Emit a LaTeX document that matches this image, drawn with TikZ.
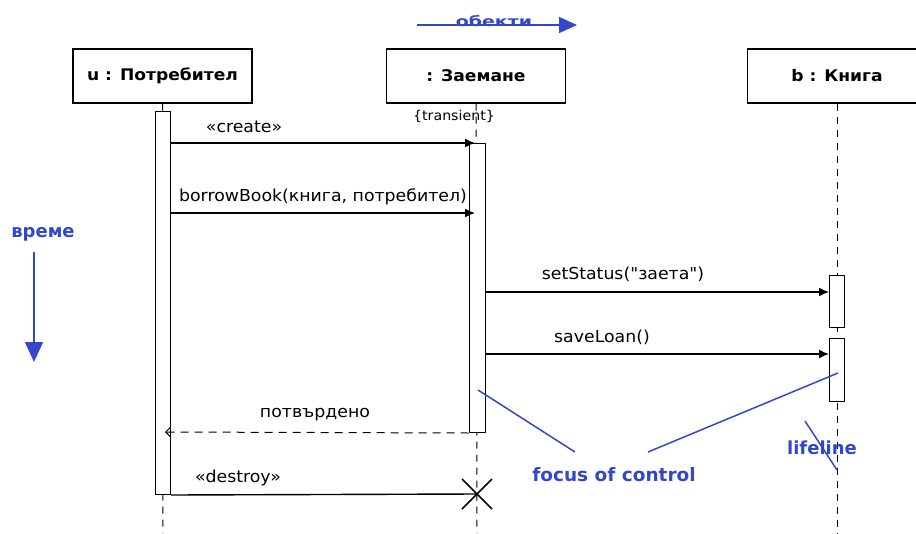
\documentclass[tikz,border=0pt]{standalone}
\usepackage{fontspec}
\setmainfont{DejaVu Sans}
\newfontfamily\msgfont[FakeStretch=1.05]{DejaVu Sans}
\newfontfamily\boxfont[FakeStretch=1.07]{DejaVu Sans}
\newfontfamily\obfont[FakeStretch=1.35]{DejaVu Sans}
\usetikzlibrary{arrows.meta}
\definecolor{annot}{RGB}{50,72,200}
\begin{document}
\begin{tikzpicture}[x=1pt,y=-1pt,
 obj/.style={draw,line width=1.4pt,minimum width=179pt,minimum height=54pt,inner sep=0pt,font=\boxfont\fontsize{16}{19}\selectfont\bfseries},
 act/.style={draw,line width=1pt,fill=white,minimum width=15pt,inner sep=0pt,anchor=north},
 msg/.style={line width=1.4pt,-{Latex[length=10pt,width=9pt]}},
 ret/.style={line width=1pt,dash pattern=on 8pt off 6pt,-{Straight Barb[length=5pt,width=10pt]}},
 life/.style={line width=1pt,dash pattern=on 7pt off 6pt},
 lbl/.style={font=\msgfont\fontsize{16.5}{19}\selectfont,inner sep=0pt},
 small/.style={font=\msgfont\fontsize{13.5}{16}\selectfont,inner sep=0pt},
 note/.style={font=\fontsize{18.5}{22}\selectfont\bfseries,text=annot,inner sep=0pt},
 noteline/.style={draw=annot,line width=1.5pt}]
\useasboundingbox (0,0) rectangle (916,533);

% objects
\node[obj] (u) at (162.5,76) {u : Потребител};
\node[obj] (z) at (476,76) {\raisebox{-3pt}{: Заемане}};
\node[obj] (b) at (837,76) {\raisebox{-3pt}{b : Книга}};

% lifelines
\coordinate (uend) at (163,533);
\coordinate (zend) at (477,533);
\coordinate (bend) at (837,533);
\draw[life] (u.south) -- (uend);
\draw[life] (z.south) -- (zend);
\draw[life] (b.south) -- (bend);

\node[small] (tr) at (454,116) {\{transient\}};

% activation bars
\node[act,minimum height=383pt] (ua) at (163,111) {};
\node[act,minimum height=289pt,minimum width=16pt] (za) at (477,143) {};
\node[act,minimum height=52pt] (ba1) at (837,275) {};
\node[act,minimum height=63pt] (ba2) at (837,338) {};

% messages
\coordinate (cr) at (475,143);
\draw[msg] (ua.east |- cr) -- (cr);
\node[lbl] (crl) at (244,127) {«create»};

\coordinate (bb) at (475,213);
\draw[msg] (ua.east |- bb) -- (bb);
\node[lbl] (bbl) at (323,197) {borrowBook(книга, потребител)};

\coordinate (ss) at (829,292);
\draw[msg] (za.east |- ss) -- (ss);
\node[lbl] (ssl) at (623,274) {setStatus("заета")};

\coordinate (sl) at (829,354);
\draw[msg] (za.east |- sl) -- (sl);
\node[lbl] (sll) at (602,337) {saveLoan()};

\coordinate (rt) at (165,432);
\draw[ret] (za.south west) -- (rt);
\node[lbl] (rtl) at (315,415) {потвърдено};

\coordinate (dx) at (477,494);
\draw[line width=1.4pt] (ua.south east) -- (dx);
\node[lbl] (dxl) at (238,478) {«destroy»};
\draw[line width=1.6pt] ([shift={(-15,-15)}]dx) -- ([shift={(15,15)}]dx)
                        ([shift={(-15,15)}]dx) -- ([shift={(15,-15)}]dx);

% annotations
\node[note,font=\obfont\fontsize{14}{17}\selectfont\bfseries] (ob) at (494,21) {обекти};
\coordinate (ob1) at (417,25);
\coordinate (ob2) at (577,25);
\draw[noteline,-{Triangle[length=18pt,width=16pt]}] (ob1) -- (ob2);

\node[note,font=\fontsize{18}{21}\selectfont\bfseries] (vr) at (43,234) {време};
\coordinate (vr1) at (34,252);
\coordinate (vr2) at (34,362);
\draw[noteline,-{Triangle[length=20pt,width=18pt]}] (vr1) -- (vr2);

\node[note] (fc) at (614,475) {focus of control};
\coordinate (fc1) at (478,390);
\coordinate (fc2) at (575,452);
\coordinate (fc3) at (648,452);
\coordinate (fc4) at (838,373);
\draw[noteline] (fc1) -- (fc2);
\draw[noteline] (fc3) -- (fc4);

\node[note,font=\fontsize{18}{21}\selectfont\bfseries] (ll) at (822,448) {lifeline};
\coordinate (ll1) at (805,421);
\coordinate (ll2) at (837,470);
\draw[noteline] (ll1) -- (ll2);
\end{tikzpicture}
\end{document}
